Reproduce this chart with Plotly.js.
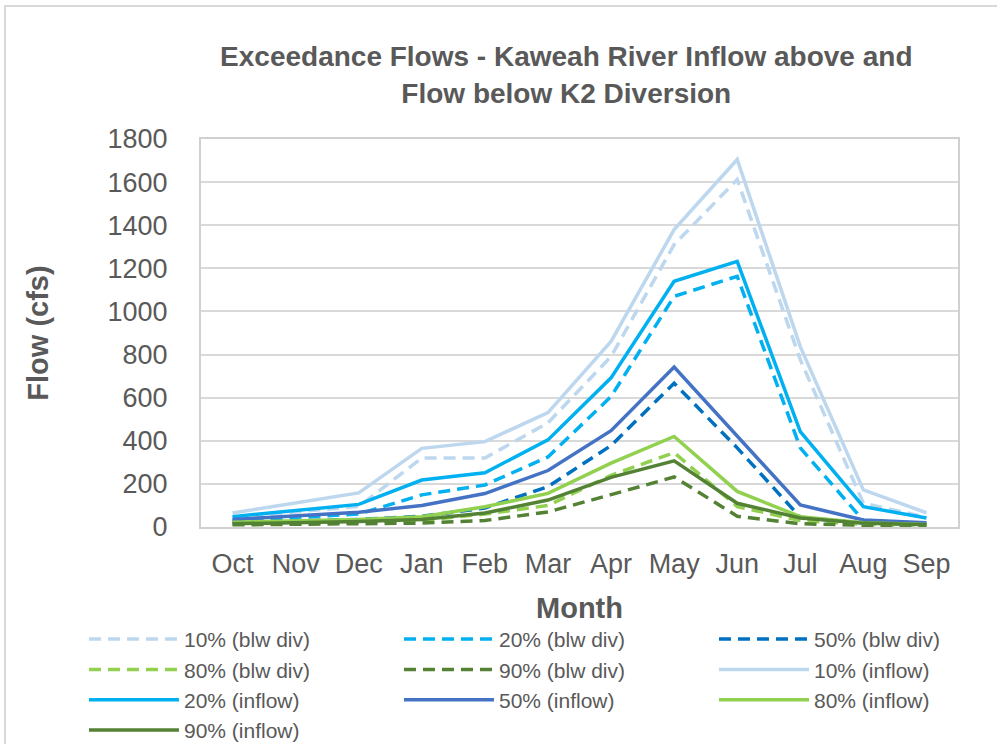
<!DOCTYPE html>
<html>
<head>
<meta charset="utf-8">
<script src="https://cdn.plot.ly/plotly-3.0.1.min.js"></script>
<style>
  html, body { margin: 0; padding: 0; background: #ffffff; overflow: hidden; }
  #frame { position: absolute; left: 4px; top: 5px; width: 1010px; height: 760px;
           border-left: 2px solid #d9d9d9; border-top: 2px solid #d9d9d9; }
  #chart { position: absolute; left: 0; top: 0; width: 997px; height: 744px; }
</style>
</head>
<body>
<div id="frame"></div>
<div id="chart"></div>
<script>
const months = ["Oct","Nov","Dec","Jan","Feb","Mar","Apr","May","Jun","Jul","Aug","Sep"];

const blw10    = [45, 70, 95, 320, 320, 483, 791, 1310, 1612, 776, 110, 45];
const blw20    = [30, 45, 60, 149, 195, 325, 605, 1070, 1163, 367, 30, 15];
const blw50    = [22, 28, 35, 50, 88, 187, 378, 667, 367, 45, 18, 12];
const blw80    = [15, 18, 22, 30, 60, 100, 240, 345, 95, 30, 12, 8];
const blw90    = [10, 12, 15, 18, 30, 70, 150, 232, 50, 15, 8, 5];
const inflow10 = [65, 110, 158, 365, 396, 531, 861, 1380, 1705, 837, 172, 66];
const inflow20 = [48, 78, 105, 218, 252, 404, 692, 1140, 1232, 443, 94, 42];
const inflow50 = [35, 50, 68, 100, 155, 262, 447, 742, 422, 102, 33, 20];
const inflow80 = [22, 28, 35, 48, 94, 156, 296, 420, 165, 48, 20, 12];
const inflow90 = [15, 20, 25, 35, 65, 125, 230, 307, 110, 42, 18, 10];

const seriesNames = ["10% (blw div)","20% (blw div)","50% (blw div)","80% (blw div)","90% (blw div)",
                     "10% (inflow)","20% (inflow)","50% (inflow)","80% (inflow)","90% (inflow)"];
const seriesData = [blw10, blw20, blw50, blw80, blw90, inflow10, inflow20, inflow50, inflow80, inflow90];
const seriesColors = ["#BDD7EE","#00B0F0","#0070C0","#92D050","#548235",
                      "#BDD7EE","#00B0F0","#4472C4","#92D050","#548235"];
const seriesDash = ["12px,7px","12px,7px","12px,7px","12px,7px","12px,7px",
                    "solid","solid","solid","solid","solid"];

const traces = seriesNames.map((n, i) => ({
  type: "scatter", mode: "lines", name: n, x: months, y: seriesData[i],
  line: { color: seriesColors[i], width: 3.5, dash: seriesDash[i] },
  hoverinfo: "skip"
}));

const font = "Arial, 'Liberation Sans', sans-serif";
const layout = {
  width: 997, height: 744,
  margin: { l: 201, r: 39, t: 139, b: 217, autoexpand: false },
  paper_bgcolor: "rgba(0,0,0,0)", plot_bgcolor: "#ffffff",
  font: { family: font, color: "#595959" },
  title: {
    text: "<b>Exceedance Flows - Kaweah River Inflow above and<br>Flow below K2 Diversion</b>",
    font: { size: 28, color: "#595959", family: font },
    x: 0.568, xanchor: "center", y: 0.911, yanchor: "middle"
  },
  xaxis: {
    type: "category", range: [-0.5, 11.5],
    showgrid: false, showline: true, mirror: true, linecolor: "#d0d0d0", linewidth: 2,
    ticks: "", tickfont: { size: 27, color: "#595959" }, ticklabelstandoff: 12,
    title: { text: "<b>Month</b>", font: { size: 29, color: "#595959" }, standoff: 19 }
  },
  yaxis: {
    range: [0, 1800], dtick: 200, showgrid: true, gridcolor: "#d9d9d9", gridwidth: 2,
    showline: true, mirror: true, linecolor: "#d0d0d0", linewidth: 2, zeroline: false,
    ticks: "", tickfont: { size: 27, color: "#595959" }, ticklabelstandoff: 26,
    title: { text: "<b>Flow (cfs)</b>", font: { size: 29, color: "#595959" }, standoff: 50 }
  },
  showlegend: true,
  legend: {
    orientation: "h", x: -0.1546, xanchor: "left", y: -0.237, yanchor: "top",
    entrywidth: 210, entrywidthmode: "pixels",
    font: { size: 21, color: "#595959" }, itemwidth: 90,
    bgcolor: "rgba(0,0,0,0)"
  }
};

Plotly.newPlot("chart", traces, layout, { displayModeBar: false, staticPlot: true });
</script>
</body>
</html>
